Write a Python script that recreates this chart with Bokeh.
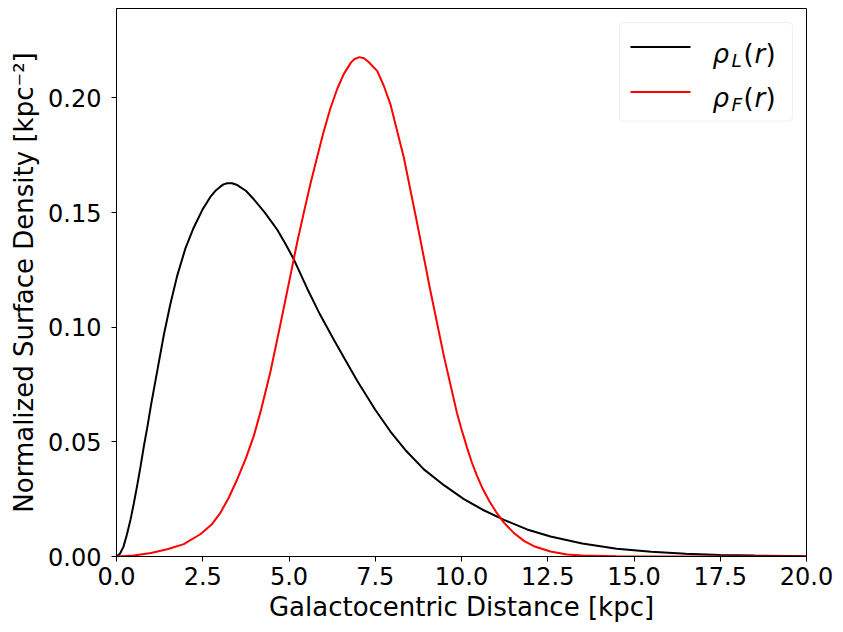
from bokeh.plotting import figure
from bokeh.models import Range1d, FixedTicker, BoxAnnotation, Label
from bokeh.embed import file_html
from bokeh.resources import INLINE

# ---------------- data ----------------
r_L = [0.0, 0.1, 0.2, 0.3, 0.41, 0.5, 0.6, 0.7, 0.79, 0.9, 1.0, 1.2, 1.37, 1.56,
       1.76, 2.0, 2.24, 2.5, 2.72, 2.86, 3.0, 3.1, 3.21, 3.35, 3.5, 3.75, 3.98,
       4.3, 4.66, 4.9, 5.14, 5.53, 5.9, 6.3, 6.6, 6.98, 7.5, 7.94, 8.4, 8.91, 9.5,
       10.07, 10.6, 11.23, 11.9, 12.58, 13.5, 14.5, 15.5, 16.5, 17.5, 18.5, 19.5,
       20.0]
rho_L = [0.0, 0.0012, 0.0042, 0.0095, 0.0163, 0.023, 0.031, 0.0395, 0.0478, 0.057,
         0.066, 0.0825, 0.0965, 0.110, 0.1225, 0.1345, 0.1435, 0.1515, 0.1568,
         0.1594, 0.1612, 0.1623, 0.1628, 0.1628, 0.1620, 0.1595, 0.1558, 0.150,
         0.1425, 0.1363, 0.1296, 0.1168, 0.1055, 0.0945, 0.0866, 0.0765, 0.064,
         0.0545, 0.046, 0.038, 0.031, 0.025, 0.0205, 0.016, 0.0118, 0.0087, 0.0057,
         0.0034, 0.0021, 0.0012, 0.0007, 0.0004, 0.0002, 0.0001]

r_F = [0.0, 0.5, 1.0, 1.5, 1.95, 2.43, 2.75, 3.0, 3.25, 3.5, 3.75, 3.98, 4.2, 4.46,
       4.65, 4.85, 5.04, 5.23, 5.43, 5.62, 5.82, 6.0, 6.2, 6.4, 6.59, 6.8, 6.9,
       7.04, 7.17, 7.3, 7.56, 7.75, 7.94, 8.33, 8.72, 9.1, 9.49, 9.87, 10.0, 10.16,
       10.3, 10.45, 10.6, 10.8, 11.0, 11.23, 11.5, 11.81, 12.1, 12.58, 13.06, 13.5,
       14.5, 15.5, 20.0]
rho_F = [0.0, 0.0004, 0.0015, 0.0033, 0.0054, 0.0097, 0.0138, 0.0188, 0.0255,
         0.0337, 0.0428, 0.0526, 0.0645, 0.0805, 0.094, 0.1085, 0.1225, 0.1365,
         0.150, 0.1625, 0.1745, 0.185, 0.1955, 0.204, 0.2105, 0.2155, 0.217, 0.2178,
         0.2173, 0.2158, 0.2117, 0.2052, 0.1972, 0.1739, 0.1449, 0.1158, 0.0874,
         0.0625, 0.0555, 0.0475, 0.041, 0.0352, 0.030, 0.0243, 0.0195, 0.0148,
         0.0105, 0.0068, 0.0045, 0.0022, 0.0009, 0.0004, 0.0001, 0.0, 0.0]

x_ticks = [0, 2.5, 5, 7.5, 10, 12.5, 15, 17.5, 20]
x_tick_labels = ["0.0", "2.5", "5.0", "7.5", "10.0", "12.5", "15.0", "17.5", "20.0"]
y_ticks = [0, 0.05, 0.10, 0.15, 0.20]
y_tick_labels = ["0.00", "0.05", "0.10", "0.15", "0.20"]

x_label = "Galactocentric Distance [kpc]"
y_label = "Normalized Surface Density [kpc\u207b\u00b2]"

X_MIN, X_MAX = 0.0, 20.0
Y_MIN, Y_MAX = 0.0, 0.239

# ---------------- layout ----------------
W, H = 835, 624
BL, BR, BT, BB = 116, 29, 8, 66
FW = W - BL - BR
FH = H - BT - BB
FONT = "DejaVu Sans"

p = figure(width=W, height=H, output_backend="svg", toolbar_location=None,
           x_range=Range1d(X_MIN, X_MAX), y_range=Range1d(Y_MIN, Y_MAX),
           min_border_left=BL, min_border_right=BR, min_border_top=BT,
           min_border_bottom=BB)
p.grid.visible = False
p.outline_line_color = "black"
p.outline_line_width = 1
p.background_fill_color = "white"
p.border_fill_color = "white"

for ax, ticks, labels in ((p.xaxis[0], x_ticks, x_tick_labels),
                          (p.yaxis[0], y_ticks, y_tick_labels)):
    ax.ticker = FixedTicker(ticks=ticks)
    ax.major_label_overrides = {t: l for t, l in zip(ticks, labels)}
    ax.minor_tick_line_color = None
    ax.major_tick_in = 0
    ax.major_tick_out = 5
    ax.major_tick_line_color = "black"
    ax.axis_line_color = "black"
    ax.major_label_text_font = FONT
    ax.major_label_text_font_size = "24px"
    ax.major_label_text_color = "black"
    ax.axis_label_text_font = FONT
    ax.axis_label_text_font_size = "26px"
    ax.axis_label_text_font_style = "normal"
    ax.axis_label_text_color = "black"

p.xaxis.axis_label = x_label
p.yaxis.axis_label = y_label
p.xaxis.major_label_standoff = 5
p.xaxis.axis_label_standoff = 4
p.yaxis.major_label_standoff = 10
p.yaxis.axis_label_standoff = 6

p.line(r_L, rho_L, line_color="black", line_width=2)
p.line(r_F, rho_F, line_color="red", line_width=2)

# ---------------- legend (manual, for math-style labels) ----------------
def dx(px):  # picture pixel -> data x
    return X_MIN + (px - BL) / FW * (X_MAX - X_MIN)

def dy(py):  # picture pixel -> data y
    return Y_MIN + (H - BB - py) / FH * (Y_MAX - Y_MIN)

box = BoxAnnotation(left=dx(619), right=dx(792), top=dy(22), bottom=dy(121),
                    fill_color="white", fill_alpha=0.8, line_color="#cccccc",
                    line_width=1, border_radius=4, level="underlay")
p.add_layout(box)

rows = [("black", "L", 46.7, 53.5), ("red", "F", 91.7, 97.5)]
for color, sub, ly, base in rows:
    p.line([dx(630), dx(690)], [dy(ly), dy(ly)], line_color=color, line_width=2)
    parts = [("\u03c1", 712, base, 26, "italic"),
             (sub, 731, base + 6.5, 18.5, "italic"),
             ("(", 743, base, 26, "normal"),
             ("r", 754, base, 26, "italic"),
             (")", 765, base, 26, "normal")]
    for txt, px, py, fs, style in parts:
        p.add_layout(Label(x=dx(px), y=dy(py), text=txt, text_font=FONT,
                           text_font_size=f"{fs}px", text_font_style=style,
                           text_color="black", text_align="left",
                           text_baseline="alphabetic"))

open("out.html", "w").write(file_html(p, INLINE))
